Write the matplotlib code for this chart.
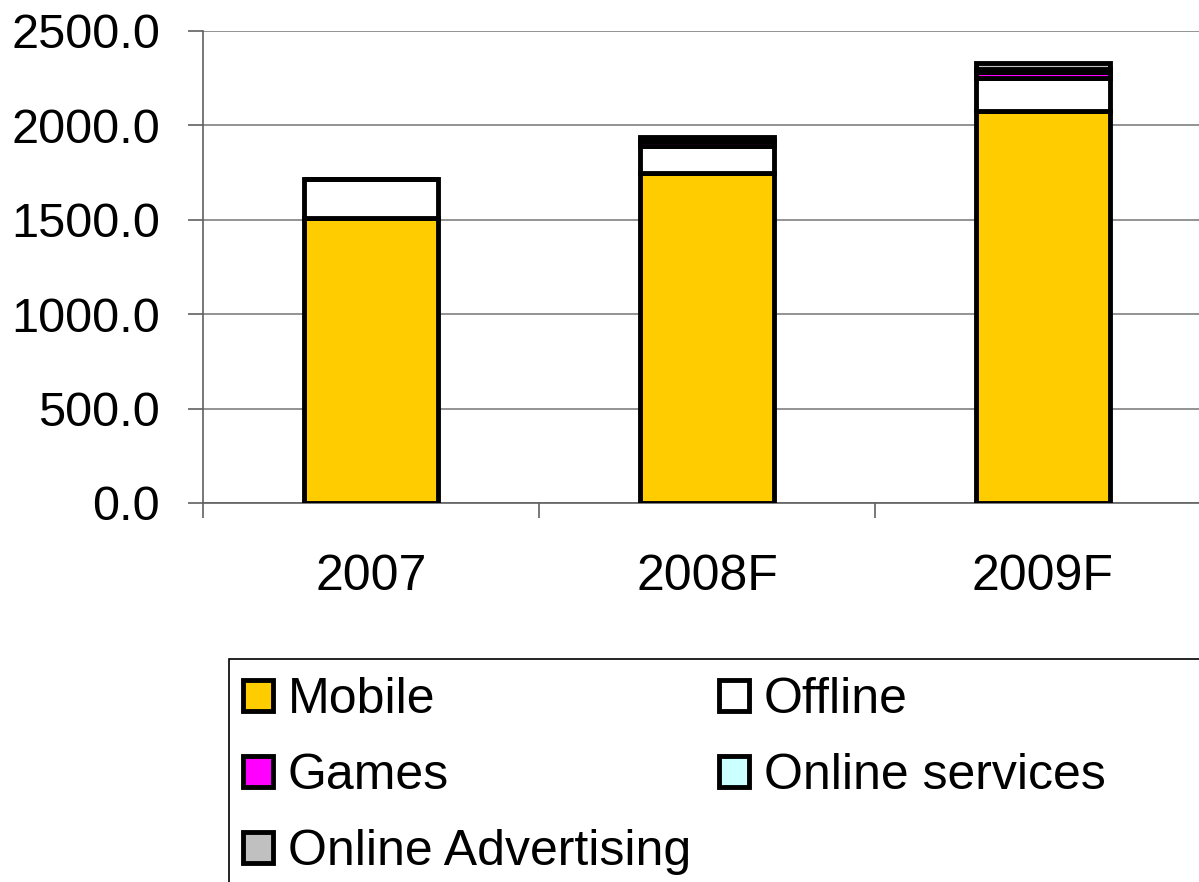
import numpy as np
import matplotlib.pyplot as plt
from matplotlib.patches import Rectangle

plt.rcParams['font.family'] = ['Liberation Sans', 'DejaVu Sans']

years = ['2007', '2008F', '2009F']
mobile = [1512, 1748, 2076]
offline = [202, 143, 175]
games = [1, 26, 32]
online_services = [1, 8, 16]
online_advertising = [1, 11, 29]

series = [
    ('Mobile', mobile, '#FFCC00'),
    ('Offline', offline, '#FFFFFF'),
    ('Games', games, '#FF00FF'),
    ('Online services', online_services, '#CCFFFF'),
    ('Online Advertising', online_advertising, '#C0C0C0'),
]

W, H = 1199, 882
fig = plt.figure(figsize=(W / 100, H / 100), dpi=100)
ax = fig.add_axes([203 / W, 1 - 503 / H, 1008 / W, 472 / H])

x = np.arange(len(years))
bottom = np.zeros(len(years))
handles = {}
for name, vals, col in series:
    b = ax.bar(x, vals, 0.4, bottom=bottom, color=col, edgecolor='black',
               linewidth=3.5, label=name, zorder=3)
    bottom += np.array(vals)
    handles[name] = b

ax.set_xlim(-0.5, 2.5)
ax.set_ylim(0, 2500)
yt = np.arange(0, 2501, 500)
ax.set_yticks(yt)
ax.set_yticklabels(['%.1f' % v for v in yt], fontsize=35)
ax.yaxis.grid(True, color='#808080', linewidth=1.2, zorder=0)
ax.set_xticks(x)
ax.set_xticklabels(years, fontsize=36)
ax.tick_params(axis='x', length=0, pad=37)
ax.set_xticks([-0.5, 0.5, 1.5], minor=True)
ax.tick_params(axis='x', which='minor', length=11, width=1.2, color='#606060')
ax.tick_params(axis='y', length=11, width=1.2, color='#606060', pad=20)
for s in ['top', 'right']:
    ax.spines[s].set_visible(False)
for s in ['left', 'bottom']:
    ax.spines[s].set_color('#606060')
    ax.spines[s].set_linewidth(1.2)

# legend filled row by row: Mobile, Offline / Games, Online services / Online Advertising
order = ['Mobile', 'Games', 'Online Advertising', 'Offline', 'Online services']
leg = fig.legend([handles[n] for n in order], order, loc='upper left', ncol=2,
                 fontsize=36, bbox_to_anchor=(243 / W, 1 - 677 / H),
                 frameon=False, borderpad=0, borderaxespad=0,
                 handlelength=0.6, handleheight=0.6, handletextpad=0.3,
                 columnspacing=0.55, labelspacing=0.6)

fig.patches.append(Rectangle((229 / W, -0.05), 1.0, 1 - 659 / H + 0.05,
                             transform=fig.transFigure, fill=False,
                             edgecolor='black', linewidth=1.2))

fig.savefig('out.png', dpi=100)
